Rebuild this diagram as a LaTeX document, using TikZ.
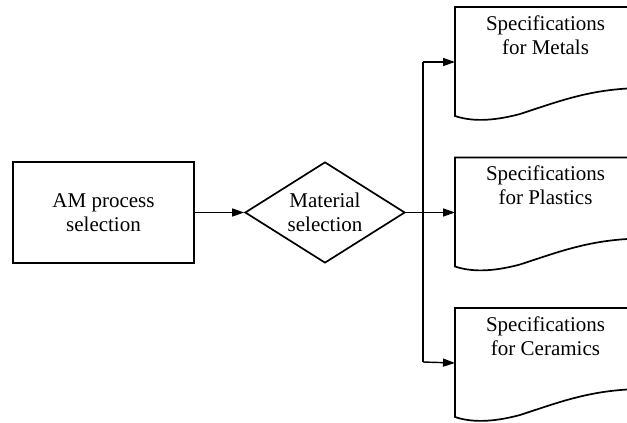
\documentclass[tikz,border=0pt]{standalone}
\usepackage{fontspec}
\setmainfont{Liberation Serif}
\usetikzlibrary{shapes.geometric,arrows.meta}
\begin{document}
\begin{tikzpicture}[x=1pt,y=-1pt,
  shapeline/.style={draw=black,line width=1.7pt},
  conn/.style={draw=black,line width=1.4pt,-{Triangle[length=12pt,width=8pt]}},
  plain/.style={draw=black,line width=1.4pt},
  lbl/.style={align=center,font=\fontsize{21}{24}\selectfont,inner sep=0pt}]
\useasboundingbox (0,0) rectangle (627,423);
\node[shapeline,rectangle,minimum width=181pt,minimum height=101pt,inner sep=0pt,lbl] (am) at (103.5,212.5) {AM process\\selection};
\node[shapeline,diamond,aspect=1.58,minimum width=160pt,minimum height=101pt,inner sep=0pt,lbl] (mat) at (325,212.5) {Material\\selection};
\coordinate (j) at (423,212.5);
\coordinate (jt) at (423,62);
\coordinate (jb) at (423,362);
% documents
\foreach \n/\t/\name in {0/Metals/m,150.5/Plastics/p,301/Ceramics/c}{
  \begin{scope}[yshift=-\n pt]
  \draw[shapeline,line join=miter] (640,7) -- (455,7) -- (455,116)
    .. controls (470,121) and (490,122) .. (520,114)
    .. controls (560,101) and (590,89) .. (640,88);
  \node[lbl] (doc\name) at (545.5,35) {Specifications\\for \t};
  \coordinate (in\name) at (455,62);
  \end{scope}
}
\draw[conn] (am.east) -- (mat.west);
\draw[plain] (mat.east) -- (j);
\draw[plain] (jt) -- (jb);
\draw[conn] (jt) -- (inm);
\draw[conn] (j) -- (inp);
\draw[conn] (jb) -- (inc);
\end{tikzpicture}
\end{document}
